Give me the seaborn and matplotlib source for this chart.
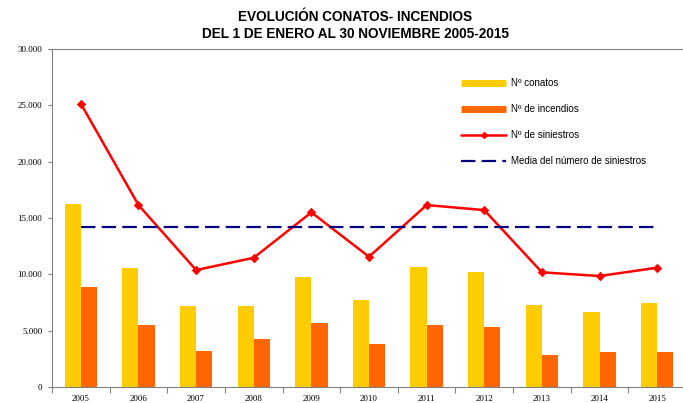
import matplotlib
matplotlib.use("Agg")
import matplotlib.pyplot as plt
import seaborn as sns
import pandas as pd
import numpy as np
from matplotlib.lines import Line2D
from matplotlib.ticker import FuncFormatter, FixedLocator

years = ["2005", "2006", "2007", "2008", "2009", "2010", "2011", "2012", "2013", "2014", "2015"]
conatos = [16250, 10600, 7170, 7170, 9770, 7700, 10630, 10240, 7290, 6690, 7440]
incendios = [8900, 5500, 3170, 4260, 5710, 3840, 5470, 5350, 2810, 3130, 3100]
siniestros = [25150, 16150, 10380, 11470, 15500, 11560, 16150, 15700, 10180, 9850, 10590]
media = 14220
labels = ["Nº conatos", "Nº de incendios", "Nº de siniestros", "Media del número de siniestros"]

sns.set_theme(style="white")

fig = plt.figure(figsize=(6.83, 4.03), dpi=100)
ax = fig.add_axes([52/683, 16/403, 634/683, 338/403])

df = pd.DataFrame({
    "year": years * 2,
    "value": conatos + incendios,
    "serie": [labels[0]] * len(years) + [labels[1]] * len(years),
})
sns.barplot(data=df, x="year", y="value", hue="serie", order=years,
            palette=["#FFCC00", "#FF6600"], width=0.56, dodge=True,
            saturation=1, ax=ax, legend=False, gap=0, linewidth=0)

sns.pointplot(x=years, y=siniestros, color="#FF0000", marker="D",
              markersize=3.5, linewidth=1.8, ax=ax, errorbar=None)
sns.lineplot(x=np.arange(len(years)), y=[media] * len(years), color="#000080",
             linewidth=1.6, dashes=False, ax=ax)
ax.lines[-1].set_dashes((6.5, 2.8))

ax.set_xlim(-0.5, len(years) - 0.5)
ax.set_ylim(0, 30000)
ax.set_yticks(np.arange(0, 30001, 5000))
ax.yaxis.set_major_formatter(FuncFormatter(lambda v, p: f"{int(v):,}".replace(",", ".")))
ax.set_xlabel("")
ax.set_ylabel("")

for s in ["left", "bottom", "top"]:
    ax.spines[s].set_color("#808080")
    ax.spines[s].set_linewidth(0.8)
ax.spines["right"].set_visible(False)

ax.xaxis.set_minor_locator(FixedLocator(np.arange(-0.5, len(years), 1)))
ax.tick_params(axis="x", which="major", length=0, pad=6)
ax.tick_params(axis="x", which="minor", length=4, color="#808080", width=0.8, direction="out", bottom=True)
ax.tick_params(axis="y", which="major", length=3, color="#808080", width=0.8, direction="out", left=True, pad=4)

for t in ax.get_xticklabels() + ax.get_yticklabels():
    t.set_fontfamily("Liberation Serif")
    t.set_fontsize(6.5)
    t.set_color("black")

fig.text(0.52, 0.975, "EVOLUCIÓN CONATOS- INCENDIOS\nDEL 1 DE ENERO AL 30 NOVIEMBRE 2005-2015",
         ha="center", va="top", fontsize=9.8, fontweight="bold", color="black",
         family="Liberation Sans", linespacing=1.3)

handles = [
    Line2D([], [], color="#FFCC00", linewidth=5, solid_capstyle="butt"),
    Line2D([], [], color="#FF6600", linewidth=5, solid_capstyle="butt"),
    Line2D([], [], color="#FF0000", linewidth=1.8, marker="D", markersize=3),
    Line2D([], [], color="#000080", linewidth=1.6, dashes=(6.5, 2.8)),
]
leg = ax.legend(handles, labels, loc="upper left", bbox_to_anchor=(0.632, 0.94),
                frameon=False, handlelength=4.6, handletextpad=0.5,
                labelspacing=1.65, prop={"family": "Liberation Sans", "size": 7})
for t in leg.get_texts():
    t.set_color("black")

fig.savefig("out.png", dpi=100)
